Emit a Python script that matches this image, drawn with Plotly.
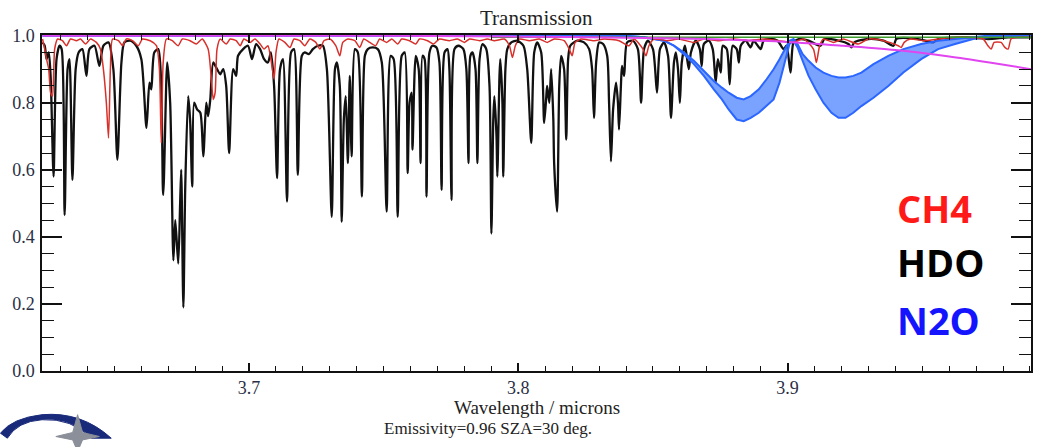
import plotly.graph_objects as go

# ---------------- data ----------------
hdo_wl = [3.6233, 3.6241, 3.6248, 3.6256, 3.6263, 3.6274, 3.6285, 3.6296, 3.6304, 3.6315,
          3.6326, 3.6333, 3.6344, 3.6356, 3.6367, 3.6381, 3.6396, 3.6407, 3.6426, 3.6444,
          3.6459, 3.6478, 3.6496, 3.6511, 3.6526, 3.6537, 3.6559, 3.6581, 3.6600, 3.6619,
          3.6630, 3.6637, 3.6648, 3.6663, 3.6681, 3.6696, 3.6707, 3.6719, 3.6726, 3.6737,
          3.6744, 3.6748, 3.6756, 3.6763, 3.6774, 3.6781, 3.6789, 3.6796, 3.6807, 3.6819,
          3.6830, 3.6841, 3.6848, 3.6856, 3.6867, 3.6881, 3.6893, 3.6904, 3.6915, 3.6926,
          3.6941, 3.6952, 3.6959, 3.6978, 3.6996, 3.7011, 3.7026, 3.7041, 3.7056, 3.7070,
          3.7081, 3.7093, 3.7104, 3.7115, 3.7126, 3.7141, 3.7156, 3.7167, 3.7181, 3.7196,
          3.7207, 3.7222, 3.7237, 3.7256, 3.7274, 3.7289, 3.7307, 3.7319, 3.7326, 3.7337,
          3.7344, 3.7352, 3.7359, 3.7367, 3.7374, 3.7381, 3.7393, 3.7404, 3.7419, 3.7430,
          3.7441, 3.7459, 3.7478, 3.7493, 3.7511, 3.7526, 3.7537, 3.7552, 3.7567, 3.7578,
          3.7589, 3.7596, 3.7604, 3.7607, 3.7619, 3.7630, 3.7637, 3.7644, 3.7652, 3.7659,
          3.7670, 3.7681, 3.7696, 3.7707, 3.7715, 3.7726, 3.7737, 3.7744, 3.7752, 3.7763,
          3.7778, 3.7796, 3.7807, 3.7815, 3.7822, 3.7830, 3.7841, 3.7848, 3.7856, 3.7867,
          3.7881, 3.7893, 3.7900, 3.7907, 3.7911, 3.7919, 3.7922, 3.7930, 3.7933, 3.7941,
          3.7944, 3.7952, 3.7959, 3.7974, 3.7996, 3.8019, 3.8033, 3.8048, 3.8059, 3.8070,
          3.8085, 3.8096, 3.8104, 3.8107, 3.8115, 3.8122, 3.8130, 3.8133, 3.8144, 3.8152,
          3.8159, 3.8170, 3.8178, 3.8185, 3.8193, 3.8219, 3.8244, 3.8263, 3.8274, 3.8281,
          3.8289, 3.8300, 3.8315, 3.8330, 3.8337, 3.8344, 3.8352, 3.8363, 3.8370, 3.8374,
          3.8381, 3.8385, 3.8393, 3.8404, 3.8426, 3.8444, 3.8456, 3.8467, 3.8481, 3.8500,
          3.8515, 3.8526, 3.8541, 3.8556, 3.8567, 3.8578, 3.8585, 3.8593, 3.8600, 3.8607,
          3.8619, 3.8633, 3.8641, 3.8659, 3.8674, 3.8681, 3.8689, 3.8707, 3.8722, 3.8733,
          3.8741, 3.8752, 3.8759, 3.8774, 3.8785, 3.8796, 3.8811, 3.8819, 3.8826, 3.8844,
          3.8863, 3.8874, 3.8900, 3.8911, 3.8937, 3.8963, 3.8985, 3.8996, 3.9011, 3.9022,
          3.9041, 3.9078, 3.9122, 3.9137, 3.9189, 3.9226, 3.9237, 3.9248, 3.9300, 3.9356,
          3.9393, 3.9404, 3.9485, 3.9541, 3.9559, 3.9670, 3.9744, 3.9819, 3.9904]
hdo_tr = [0.98, 0.97, 0.93, 0.95, 0.88, 0.58, 0.93, 0.97, 0.96, 0.465,
          0.90, 0.93, 0.57, 0.90, 0.95, 0.96, 0.88, 0.96, 0.97, 0.91,
          0.97, 0.98, 0.90, 0.63, 0.92, 0.98, 0.985, 0.97, 0.93, 0.725,
          0.86, 0.84, 0.95, 0.96, 0.525, 0.92, 0.80, 0.33, 0.45, 0.32,
          0.50, 0.60, 0.19, 0.55, 0.82, 0.75, 0.55, 0.80, 0.78, 0.77,
          0.64, 0.80, 0.76, 0.81, 0.92, 0.90, 0.885, 0.90, 0.85, 0.65,
          0.90, 0.88, 0.94, 0.96, 0.97, 0.93, 0.975, 0.96, 0.93, 0.92,
          0.95, 0.85, 0.575, 0.90, 0.93, 0.505, 0.95, 0.96, 0.585, 0.94,
          0.95, 0.945, 0.96, 0.97, 0.97, 0.90, 0.46, 0.90, 0.92, 0.85,
          0.445, 0.75, 0.82, 0.62, 0.88, 0.64, 0.96, 0.95, 0.52, 0.94,
          0.96, 0.965, 0.96, 0.92, 0.475, 0.94, 0.93, 0.46, 0.94, 0.95,
          0.59, 0.80, 0.83, 0.66, 0.94, 0.90, 0.62, 0.94, 0.93, 0.52,
          0.95, 0.97, 0.965, 0.92, 0.54, 0.95, 0.96, 0.90, 0.51, 0.96,
          0.97, 0.96, 0.90, 0.62, 0.94, 0.95, 0.90, 0.62, 0.93, 0.975,
          0.96, 0.85, 0.41, 0.75, 0.82, 0.70, 0.58, 0.88, 0.93, 0.80,
          0.58, 0.90, 0.96, 0.98, 0.985, 0.97, 0.90, 0.68, 0.95, 0.98,
          0.95, 0.74, 0.82, 0.85, 0.80, 0.90, 0.75, 0.62, 0.475, 0.85,
          0.94, 0.90, 0.69, 0.93, 0.97, 0.985, 0.98, 0.96, 0.90, 0.755,
          0.92, 0.98, 0.975, 0.94, 0.80, 0.625, 0.78, 0.86, 0.80, 0.72,
          0.85, 0.91, 0.88, 0.98, 0.985, 0.96, 0.80, 0.96, 0.985, 0.96,
          0.83, 0.96, 0.98, 0.94, 0.755, 0.92, 0.95, 0.90, 0.80, 0.92,
          0.97, 0.90, 0.95, 0.985, 0.96, 0.91, 0.975, 0.985, 0.96, 0.86,
          0.93, 0.89, 0.97, 0.96, 0.855, 0.97, 0.96, 0.92, 0.97, 0.985,
          0.965, 0.985, 0.96, 0.985, 0.99, 0.985, 0.96, 0.97, 0.89, 0.98,
          0.99, 0.985, 0.97, 0.99, 0.985, 0.975, 0.965, 0.98, 0.99, 0.985,
          0.97, 0.99, 0.99, 0.98, 0.99, 0.995, 0.99, 0.995, 0.995]

ch4_wl = [3.6233, 3.6241, 3.6248, 3.6256, 3.6263, 3.6270, 3.6278, 3.6289, 3.6307, 3.6322,
          3.6337, 3.6359, 3.6374, 3.6393, 3.6411, 3.6433, 3.6448, 3.6459, 3.6470, 3.6478,
          3.6485, 3.6493, 3.6515, 3.6530, 3.6544, 3.6567, 3.6589, 3.6604, 3.6633, 3.6656,
          3.6667, 3.6674, 3.6681, 3.6693, 3.6715, 3.6737, 3.6752, 3.6781, 3.6804, 3.6826,
          3.6848, 3.6859, 3.6867, 3.6874, 3.6881, 3.6893, 3.6915, 3.6930, 3.6952, 3.6967,
          3.6981, 3.7004, 3.7022, 3.7041, 3.7056, 3.7070, 3.7081, 3.7093, 3.7100, 3.7111,
          3.7133, 3.7152, 3.7167, 3.7189, 3.7207, 3.7226, 3.7248, 3.7263, 3.7278, 3.7300,
          3.7322, 3.7337, 3.7348, 3.7367, 3.7393, 3.7411, 3.7426, 3.7448, 3.7470, 3.7485,
          3.7511, 3.7530, 3.7552, 3.7567, 3.7596, 3.7619, 3.7633, 3.7663, 3.7685, 3.7707,
          3.7744, 3.7774, 3.7800, 3.7819, 3.7856, 3.7885, 3.7911, 3.7948, 3.7967, 3.7978,
          3.7989, 3.8004, 3.8041, 3.8078, 3.8107, 3.8133, 3.8170, 3.8189, 3.8200, 3.8211,
          3.8233, 3.8281, 3.8319, 3.8374, 3.8411, 3.8430, 3.8463, 3.8474, 3.8485, 3.8504,
          3.8552, 3.8596, 3.8652, 3.8689, 3.8744, 3.8800, 3.8856, 3.8911, 3.8967, 3.9022,
          3.9059, 3.9096, 3.9107, 3.9119, 3.9133, 3.9170, 3.9207, 3.9263, 3.9300, 3.9356,
          3.9411, 3.9422, 3.9433, 3.9456, 3.9504, 3.9559, 3.9633, 3.9726, 3.9744, 3.9756,
          3.9767, 3.9793, 3.9807, 3.9819, 3.9830, 3.9856, 3.9904]
ch4_tr = [0.99, 0.96, 0.93, 0.90, 0.83, 0.82, 0.96, 0.99, 0.985, 0.97,
          0.99, 0.985, 0.99, 0.975, 0.99, 0.98, 0.96, 0.90, 0.80, 0.695,
          0.90, 0.99, 0.985, 0.97, 0.99, 0.985, 0.97, 0.99, 0.985, 0.97,
          0.90, 0.68, 0.92, 0.99, 0.985, 0.97, 0.99, 0.985, 0.975, 0.99,
          0.96, 0.88, 0.81, 0.83, 0.96, 0.99, 0.975, 0.99, 0.985, 0.97,
          0.99, 0.98, 0.99, 0.975, 0.96, 0.97, 0.93, 0.87, 0.95, 0.99,
          0.98, 0.965, 0.99, 0.985, 0.97, 0.99, 0.98, 0.96, 0.985, 0.99,
          0.97, 0.94, 0.98, 0.99, 0.985, 0.965, 0.99, 0.98, 0.97, 0.99,
          0.98, 0.99, 0.975, 0.99, 0.985, 0.975, 0.99, 0.985, 0.975, 0.99,
          0.985, 0.99, 0.98, 0.99, 0.985, 0.99, 0.985, 0.99, 0.97, 0.935,
          0.97, 0.99, 0.985, 0.99, 0.98, 0.99, 0.985, 0.96, 0.94, 0.98,
          0.99, 0.985, 0.99, 0.985, 0.97, 0.99, 0.96, 0.94, 0.97, 0.99,
          0.985, 0.99, 0.98, 0.99, 0.985, 0.99, 0.985, 0.99, 0.985, 0.98,
          0.99, 0.96, 0.92, 0.97, 0.99, 0.98, 0.99, 0.975, 0.99, 0.985,
          0.97, 0.965, 0.98, 0.99, 0.985, 0.99, 0.995, 0.99, 0.97, 0.96,
          0.98, 0.98, 0.965, 0.96, 0.99, 0.995, 0.995]

# N2O band: upper and lower envelope of the densely oscillating lines
n2o_wl = [3.6233, 3.8393, 3.8467, 3.8541, 3.8578, 3.8615, 3.8652, 3.8689, 3.8726, 3.8756,
          3.8781, 3.8811, 3.8837, 3.8863, 3.8893, 3.8922, 3.8948, 3.8970, 3.8989, 3.9007,
          3.9022, 3.9037, 3.9056, 3.9078, 3.9104, 3.9133, 3.9163, 3.9189, 3.9215, 3.9244,
          3.9274, 3.9319, 3.9374, 3.9430, 3.9496, 3.9559, 3.9622, 3.9689, 3.9744, 3.9819,
          3.9904]
n2o_upper = [1.0, 1.0, 0.995, 0.985, 0.97, 0.95, 0.925, 0.895, 0.865, 0.845,
             0.83, 0.815, 0.81, 0.82, 0.84, 0.87, 0.90, 0.93, 0.96, 0.985,
             0.99, 0.975, 0.945, 0.925, 0.905, 0.89, 0.88, 0.875, 0.875, 0.88,
             0.89, 0.915, 0.94, 0.96, 0.975, 0.985, 0.99, 0.995, 1.0, 1.0,
             1.0]
n2o_lower = [1.0, 1.0, 0.995, 0.985, 0.97, 0.945, 0.915, 0.88, 0.84, 0.81,
             0.78, 0.75, 0.745, 0.755, 0.77, 0.79, 0.81, 0.86, 0.92, 0.975,
             0.985, 0.965, 0.925, 0.88, 0.84, 0.80, 0.77, 0.755, 0.755, 0.77,
             0.79, 0.815, 0.85, 0.89, 0.93, 0.96, 0.975, 0.99, 0.995, 1.0,
             1.0]

cont_wl = [3.6233, 3.75, 3.80, 3.84, 3.87, 3.90, 3.92, 3.94, 3.96, 3.975, 3.9904]
cont_tr = [1.0, 1.0, 0.997, 0.994, 0.99, 0.981, 0.97, 0.957, 0.938, 0.92, 0.90]

green_wl = [3.79, 3.85, 3.90, 3.95, 3.9904]
green_tr = [0.995, 0.995, 0.995, 0.995, 0.995]

legend_names = ["CH4", "HDO", "N2O"]
legend_colors = ["#ff1a1a", "#000000", "#1414ff"]

x_ticks = [3.7, 3.8, 3.9]
y_ticks = [0.0, 0.2, 0.4, 0.6, 0.8, 1.0]

# ---------------- figure ----------------
fig = go.Figure()
fig.add_trace(go.Scatter(x=hdo_wl, y=hdo_tr, mode="lines", name="HDO",
                         line=dict(color="#111111", width=2.3, shape="spline", smoothing=0.7)))
fig.add_trace(go.Scatter(x=n2o_wl, y=n2o_upper, mode="lines", name="N2O upper",
                         line=dict(color="#2a66ff", width=2)))
fig.add_trace(go.Scatter(x=n2o_wl, y=n2o_lower, mode="lines", name="N2O",
                         line=dict(color="#2a66ff", width=2),
                         fill="tonexty", fillcolor="rgba(40,105,255,0.62)"))
fig.add_trace(go.Scatter(x=ch4_wl, y=ch4_tr, mode="lines", name="CH4",
                         line=dict(color="#d8302a", width=1.5, shape="spline", smoothing=0.6)))
fig.add_trace(go.Scatter(x=green_wl, y=green_tr, mode="lines", name="other",
                         line=dict(color="#3a9a2a", width=1.5)))
fig.add_trace(go.Scatter(x=cont_wl, y=cont_tr, mode="lines", name="continuum",
                         line=dict(color="#e045f0", width=2, shape="spline", smoothing=0.8)))

serif = "Liberation Serif"
ann = [
    dict(text="Transmission", x=0.5, y=1.052, xref="paper", yref="paper",
         xanchor="center", yanchor="middle",
         showarrow=False, font=dict(family=serif, size=21, color="#222")),
    dict(text="Wavelength / microns", x=0.5, y=-0.11, xref="paper", yref="paper",
         xanchor="center", yanchor="middle",
         showarrow=False, font=dict(family=serif, size=19, color="#222")),
    dict(text="Emissivity=0.96 SZA=30 deg.", x=0.451, y=-0.17, xref="paper", yref="paper",
         xanchor="center", yanchor="middle",
         showarrow=False, font=dict(family=serif, size=17, color="#222")),
]
legend_y = [0.485, 0.324, 0.152]
for name, col, yy in zip(legend_names, legend_colors, legend_y):
    ann.append(dict(text="<b>%s</b>" % name, x=0.8628, y=yy, xref="paper", yref="paper",
                    xanchor="left", yanchor="middle", showarrow=False,
                    font=dict(family="Open Sans", size=38, color=col)))

# small logo in the lower left corner (decoration)
shapes = [
    dict(type="path", xref="paper", yref="paper",
         path="M -0.042,-0.185 Q -0.03,-0.14 0.0,-0.13 Q 0.04,-0.12 0.07,-0.2 L 0.05,-0.2 "
              "Q 0.03,-0.14 0.0,-0.145 Q -0.025,-0.15 -0.035,-0.2 Z",
         fillcolor="#1a2a7a", line=dict(color="#1a2a7a", width=1)),
    dict(type="path", xref="paper", yref="paper",
         path="M 0.036,-0.13 L 0.041,-0.183 L 0.058,-0.195 L 0.041,-0.205 L 0.036,-0.24 "
              "L 0.031,-0.205 L 0.014,-0.195 L 0.031,-0.183 Z",
         fillcolor="#8a8f99", line=dict(color="#8a8f99", width=1)),
]

fig.update_layout(
    width=1038, height=447, autosize=False,
    margin=dict(l=42, r=5, t=35, b=76),
    paper_bgcolor="white", plot_bgcolor="white",
    showlegend=False,
    annotations=ann,
    shapes=shapes,
    xaxis=dict(range=[3.6231, 3.9904], tickvals=x_ticks, ticktext=["3.7", "3.8", "3.9"],
               ticks="inside", ticklen=8, tickwidth=1.5, tickcolor="#111",
               minor=dict(dtick=0.01, tick0=3.6, ticks="inside", ticklen=5, tickwidth=1.2,
                          tickcolor="#111"),
               showline=True, linecolor="#111", linewidth=1.5, mirror="ticks",
               showgrid=False, zeroline=False,
               tickfont=dict(family=serif, size=18, color="#2a2f45")),
    yaxis=dict(range=[0, 1.002], tickvals=y_ticks, ticktext=["0.0", "0.2", "0.4", "0.6", "0.8", "1.0"],
               ticks="inside", ticklen=20, tickwidth=1.5, tickcolor="#111",
               minor=dict(dtick=0.05, tick0=0, ticks="inside", ticklen=12, tickwidth=1.2,
                          tickcolor="#111"),
               showline=True, linecolor="#111", linewidth=1.5, mirror="ticks",
               showgrid=False, zeroline=False, ticklabelstandoff=2,
               tickfont=dict(family=serif, size=18, color="#2a2f45")),
)

fig.write_html("out.html")
